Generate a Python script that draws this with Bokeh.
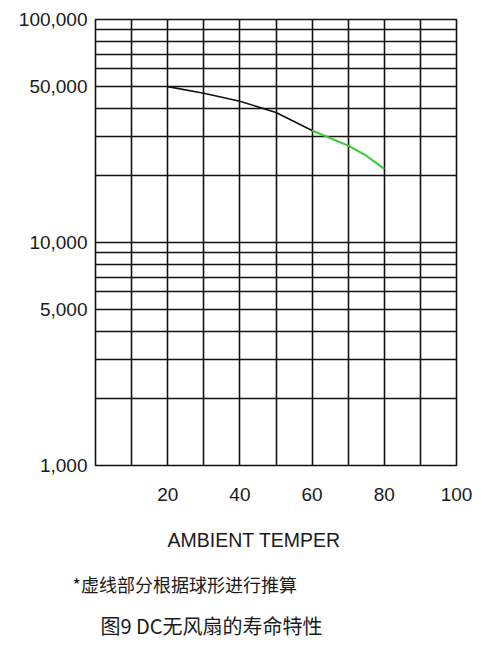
from bokeh.plotting import figure
from bokeh.models import Range1d, FixedTicker, NumeralTickFormatter, Title
from bokeh.embed import file_html
from bokeh.resources import INLINE

# ---- data ----
temp_measured = [20, 30, 40, 50, 60]
life_measured = [50000, 46700, 43000, 38300, 31800]
temp_estimated = [60, 70, 75, 80]
life_estimated = [31800, 27200, 24500, 21400]

x_tick_values = [20, 40, 60, 80, 100]
x_grid_values = [0, 10, 20, 30, 40, 50, 60, 70, 80, 90, 100]
y_tick_values = [1000, 5000, 10000, 50000, 100000]
y_grid_values = [1000, 2000, 3000, 4000, 5000, 6000, 7000, 8000, 9000,
                 10000, 20000, 30000, 40000, 50000, 60000, 70000, 80000, 90000, 100000]

x_label = "AMBIENT TEMPER"
note_text = "*虚线部分根据球形进行推算"
caption_text = "图9  DC无风扇的寿命特性"

NUM_FONT = "Liberation Sans"
CJK_FONT = "Noto Sans CJK SC"

p = figure(width=500, height=650, y_axis_type="log",
           x_range=Range1d(0, 100), y_range=Range1d(1000, 100000),
           output_backend="svg", toolbar_location=None, title=None,
           min_border_left=95, min_border_right=44, min_border_top=19, min_border_bottom=185)

p.background_fill_color = "white"
p.border_fill_color = "white"
p.outline_line_color = "#111111"
p.outline_line_width = 1.6

# grids
p.xgrid.ticker = FixedTicker(ticks=x_grid_values)
p.ygrid.ticker = FixedTicker(ticks=y_grid_values)
for g in (p.xgrid, p.ygrid):
    g.grid_line_color = "#111111"
    g.grid_line_width = 1.6
    g.grid_line_alpha = 1.0

# axes
p.xaxis.ticker = FixedTicker(ticks=x_tick_values)
p.yaxis.ticker = FixedTicker(ticks=y_tick_values)
p.yaxis.formatter = NumeralTickFormatter(format="0,0")
for ax in (p.xaxis, p.yaxis):
    ax.axis_line_color = None
    ax.major_tick_line_color = None
    ax.minor_tick_line_color = None
    ax.major_tick_out = 0
    ax.major_tick_in = 0
    ax.minor_tick_out = 0
    ax.major_label_text_font = NUM_FONT
    ax.major_label_text_color = "#1a1a1a"
p.yaxis.major_label_text_font_size = "19px"
p.yaxis.major_label_standoff = 8
p.xaxis.major_label_text_font_size = "19px"
p.xaxis.major_label_standoff = 22
p.xaxis.major_label_text_align = "left"

# curves
p.line(temp_measured, life_measured, line_color="#111111", line_width=1.6)
p.line(temp_estimated, life_estimated, line_color="#33cc33", line_width=2)

# texts below
spacer = Title(text=" ", standoff=0, text_font_size="12px")
t1 = Title(text=x_label, align="left", offset=72, standoff=14,
           text_font=NUM_FONT, text_font_size="19.5px", text_font_style="normal",
           text_color="#1a1a1a")
t2 = Title(text=note_text, align="left", offset=-23, standoff=23,
           text_font=CJK_FONT, text_font_size="18px", text_font_style="normal",
           text_color="#1a1a1a")
t3 = Title(text=caption_text, align="left", offset=5, standoff=0,
           text_font=CJK_FONT, text_font_size="20px", text_font_style="normal",
           text_color="#1a1a1a")
p.add_layout(spacer, "below")
p.add_layout(t1, "below")
p.add_layout(t2, "below")
p.add_layout(t3, "below")

open("out.html", "w").write(file_html(p, INLINE))
